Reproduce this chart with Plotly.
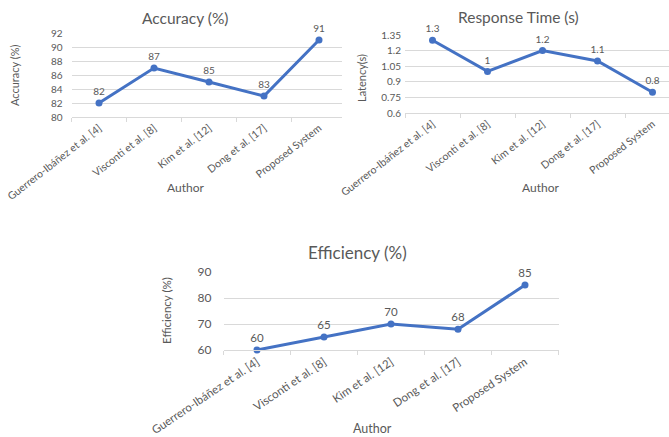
import plotly.graph_objects as go

authors = ["Guerrero-Ibáñez et al. [4]", "Visconti et al. [8]", "Kim et al. [12]",
           "Dong et al. [17]", "Proposed System"]
accuracy = [82, 87, 85, 83, 91]
latency = [1.3, 1.0, 1.2, 1.1, 0.8]
efficiency = [60, 65, 70, 68, 85]
latency_labels = ["1.3", "1", "1.2", "1.1", "0.8"]
latency_ticks = [0.6, 0.75, 0.9, 1.05, 1.2, 1.35]
latency_ticktext = ["0.6", "0.75", "0.9", "1.05", "1.2", "1.35"]

W, H = 669, 437
BLUE = "#4472C4"
GRAY = "#595959"
GRID = "#D9D9D9"
FONT = "Lato"

def px(x):
    return x / W

def py(y):
    return 1 - y / H

fig = go.Figure()

def add(y, text, xa, ya, tsize):
    fig.add_trace(go.Scatter(x=authors, y=y, xaxis=xa, yaxis=ya,
                             mode="lines+markers+text", text=text,
                             textposition="top center",
                             textfont=dict(size=tsize, color=GRAY, family=FONT),
                             line=dict(color=BLUE, width=3), marker=dict(size=7, color=BLUE),
                             cliponaxis=False, showlegend=False))

add(accuracy, [str(v) for v in accuracy], "x", "y", 10)
add(latency, latency_labels, "x2", "y2", 10)
add(efficiency, [str(v) for v in efficiency], "x3", "y3", 11.5)

def xax(domain, rng, anchor, size, angle):
    return dict(domain=domain, range=rng, anchor=anchor, type="category",
                automargin=False,
                showgrid=False, showline=True, linecolor=GRID, linewidth=1,
                ticks="outside", tickson="boundaries", ticklen=4, tickcolor=GRID,
                tickangle=angle, tickfont=dict(size=size, color=GRAY, family=FONT))

def yax(domain, rng, anchor, size, standoff, **kw):
    d = dict(domain=domain, range=rng, anchor=anchor, showgrid=True, gridcolor=GRID,
             automargin=False,
             gridwidth=1, zeroline=False, showline=False, ticks="",
             tickfont=dict(size=size, color=GRAY, family=FONT), ticklabelstandoff=standoff)
    d.update(kw)
    return d

fig.update_layout(
    xaxis=xax([px(71.5), px(342)], [-0.5, -0.5 + (342 - 71.5) / 55], "y", 10.5, -38),
    yaxis=yax([py(117), py(33)], [80, 92], "x", 10, 8, dtick=2),
    xaxis2=xax([px(405), 1], [-0.5, -0.5 + (669 - 405) / 55], "y2", 10.5, -38),
    yaxis2=yax([py(113), py(35)], [0.6, 1.35], "x2", 10, 3,
               tickvals=latency_ticks, ticktext=latency_ticktext),
    xaxis3=xax([px(223.5), px(558.5)], [-0.5, 4.5], "y3", 11.5, -34),
    yaxis3=yax([py(350), py(272)], [60, 90], "x3", 12, 11, dtick=10),
)

def ann(text, x, y, size, angle=0, color=GRAY):
    fig.add_annotation(text=text, x=px(x), y=py(y), xref="paper", yref="paper",
                       showarrow=False, textangle=angle, xanchor="center", yanchor="middle",
                       font=dict(size=size, color=color, family=FONT))

ann("Accuracy (%)", 185, 18, 15.5)
ann("Response Time (s)", 518, 17, 15.5)
ann("Efficiency (%)", 358, 252, 17)
ann("Accuracy (%)", 14, 76, 11, -90)
ann("Latency(s)", 362, 78, 11, -90)
ann("Efficiency (%)", 166, 311, 11.5, -90)
ann("Author", 185, 188, 12)
ann("Author", 540, 188, 12)
ann("Author", 372, 428, 12.5)

fig.update_layout(width=W, height=H, margin=dict(l=0, r=0, t=0, b=0),
                  paper_bgcolor="white", plot_bgcolor="white",
                  font=dict(family=FONT, color=GRAY))

fig.write_html("out.html")
